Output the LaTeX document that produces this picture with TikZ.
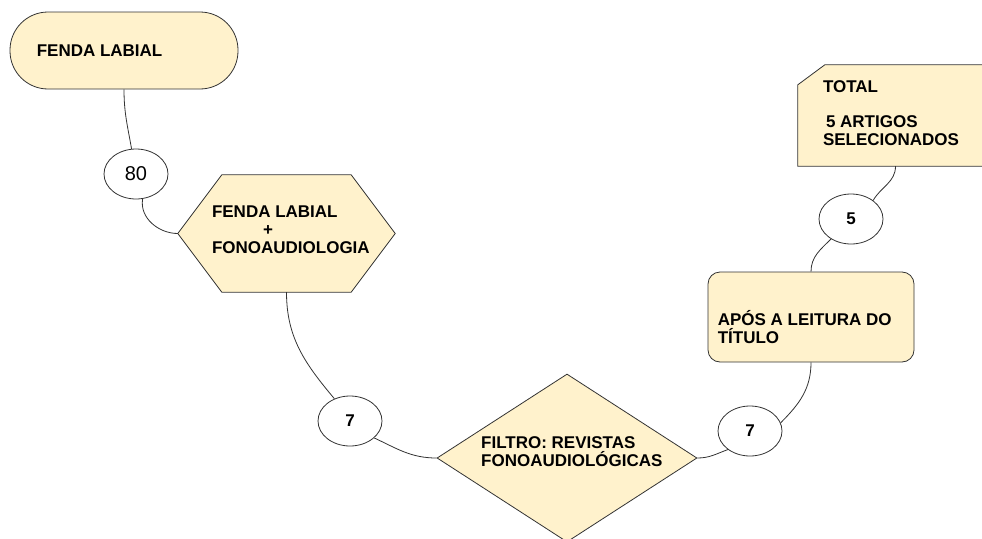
\documentclass[tikz,border=0pt]{standalone}
\usepackage{fontspec}
\setmainfont{Liberation Sans}
\usetikzlibrary{shapes.geometric}
\definecolor{paleyellow}{HTML}{FFF2CC}
\definecolor{linegray}{HTML}{333333}
\begin{document}
\begin{tikzpicture}[x=1pt, y=1pt, font=\fontsize{17}{18}\selectfont,
        box/.style={draw=linegray, fill=paleyellow, line width=0.8pt},
        count/.style={ellipse, draw=linegray, fill=white, line width=0.8pt, minimum width=64pt, minimum height=50pt, inner sep=0pt},
        lbl/.style={font=\fontsize{17}{18}\selectfont\bfseries, align=left, inner sep=0pt, anchor=west},
        link/.style={draw=linegray, line width=0.8pt}]
        \useasboundingbox (0,0) rectangle (982,-538);
        % boxes
        \node[box, rounded corners=38pt, minimum width=228pt, minimum height=77pt] (fenda) at (124,-50.5) {};
        \node[lbl] (fendatxt) at ([xshift=27pt]fenda.west) {FENDA LABIAL};
        \node[minimum width=217pt, minimum height=117pt] (hexa) at (286.5,-233.5) {};
        \draw[box] (hexa.west)--([xshift=44pt]hexa.north west)--([xshift=-44pt]hexa.north east)--(hexa.east)--([xshift=-44pt]hexa.south east)--([xshift=44pt]hexa.south west)--cycle;
        \node[lbl] (hexatxt) at ([xshift=34pt, yshift=4pt]hexa.west) {FENDA LABIAL\\\hspace*{51pt}+\\FONOAUDIOLOGIA};
        \node[box, diamond, minimum width=260pt, minimum height=168pt, inner sep=0pt] (filtro) at (567,-458) {};
        \node[lbl] (filtrotxt) at ([xshift=-86pt, yshift=6pt]filtro.center) {FILTRO: REVISTAS\\FONOAUDIOLÓGICAS};
        \node[box, rounded corners=12pt, minimum width=206pt, minimum height=90pt] (apos) at (811,-317) {};
        \node[lbl] (apostxt) at ([xshift=10pt, yshift=-10pt]apos.west) {APÓS A LEITURA DO\\TÍTULO};
        \node[minimum width=187pt, minimum height=101pt] (total) at (891.5,-115.5) {};
        \draw[box] (total.south west)--([yshift=-20pt]total.north west)--([xshift=27pt]total.north west)--(total.north east)--(total.south east)--cycle;
        \node[lbl] (totaltxt) at ([xshift=25pt, yshift=2pt]total.west) {TOTAL\\[17pt]\hspace*{3pt}5 ARTIGOS\\SELECIONADOS};
        % counts
        \node[count, font=\fontsize{20}{22}\selectfont] (c80) at (136,-174) {80};
        \node[count, font=\fontsize{17}{18}\selectfont\bfseries] (c7a) at (350,-421) {7};
        \node[count, font=\fontsize{17}{18}\selectfont\bfseries] (c7b) at (750,-431) {7};
        \node[count, font=\fontsize{17}{18}\selectfont\bfseries] (c5) at (851,-219) {5};
        % links
        \draw[link] (fenda.south) to[out=-90, in=100] (c80.100);
        \draw[link] (c80.-75) to[out=-100, in=180] (hexa.west);
        \draw[link] (hexa.south) to[out=-90, in=130] (c7a.125);
        \draw[link] (c7a.-35) to[out=-25, in=180] (filtro.west);
        \draw[link] (filtro.east) to[out=0, in=-160] (c7b.-140);
        \draw[link] (c7b.15) to[out=45, in=-90] (apos.south);
        \draw[link] (apos.north) to[out=90, in=-135] (c5.-135);
        \draw[link] (c5.40) to[out=60, in=-90] ([xshift=4pt]total.south);
    \end{tikzpicture}
\end{document}
